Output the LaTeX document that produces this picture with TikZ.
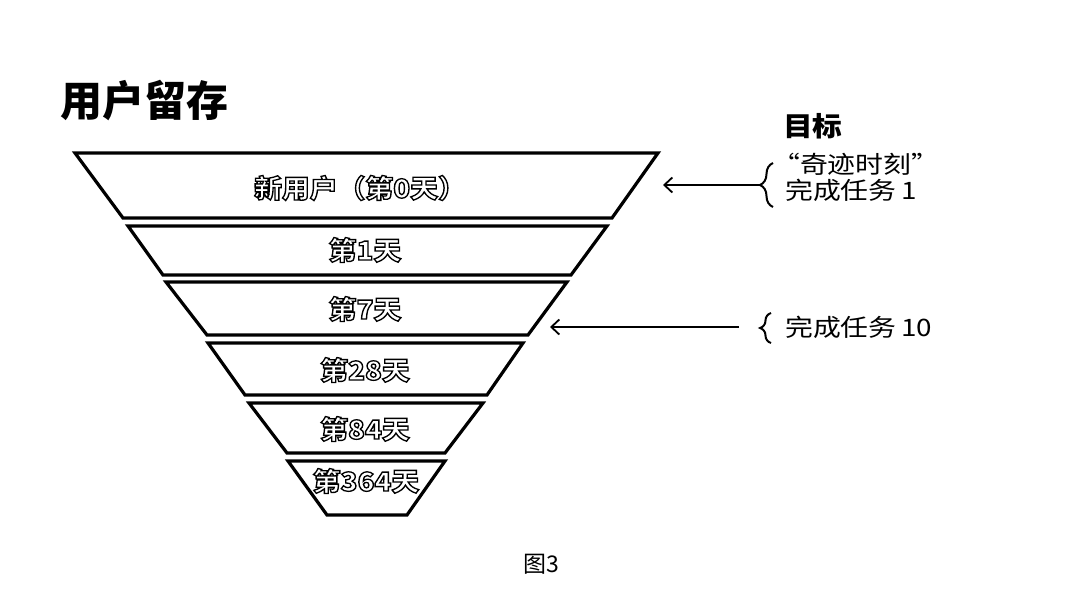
\documentclass[tikz,border=0pt]{standalone}
\usepackage{fontspec}
\newfontfamily\cjk{Noto Sans CJK SC}
\newfontfamily\cjkout{Noto Sans CJK SC}[FakeBold=5]
\usetikzlibrary{arrows.meta,decorations.pathreplacing}
\tikzset{
  band/.style={draw=black, line width=3.2pt, fill=white, line join=miter},
  bandtext/.style={inner sep=0pt, text=white, font=\cjkout\bfseries\fontsize{26}{31}\selectfont, xscale=1.07},
  goaltext/.style={inner sep=0pt, anchor=west, font=\cjk\fontsize{24}{29}\selectfont, xscale=1.16},
  arrowline/.style={line width=2pt, -{Straight Barb[length=8pt,width=15pt,line width=1.8pt]}},
  bracestyle/.style={line width=2pt, decorate, decoration={brace, amplitude=13pt}}
}
\newcommand{\outl}[1]{\special{pdf:literal direct 0 G}#1}
\begin{document}
\begin{tikzpicture}[x=1pt,y=-1pt]
\useasboundingbox (0,0) rectangle (1080,600);
\fill[white] (0,0) rectangle (1080,600);

% title
\node[inner sep=0pt, anchor=west, font=\cjk\bfseries\fontsize{42}{50}\selectfont] (title) at (60,101) {用户留存};

% funnel bands
\draw[band] (75,153) -- (658,153) -- (612,218) -- (123,218) -- cycle;
\node[bandtext] (d0) at (360,188) {\outl{新用户（第0天）}};
\draw[band] (128,226) -- (607,226) -- (571,275) -- (163,275) -- cycle;
\node[bandtext] (d1) at (365,250) {\outl{第1天}};
\draw[band] (166,282) -- (567,282) -- (528,335) -- (207,335) -- cycle;
\node[bandtext] (d7) at (365,309) {\outl{第7天}};
\draw[band] (208,343) -- (523,343) -- (487,395) -- (245,395) -- cycle;
\node[bandtext] (d28) at (365,370) {\outl{第28天}};
\draw[band] (249,403) -- (483,403) -- (445,453) -- (287,453) -- cycle;
\node[bandtext] (d84) at (365,429) {\outl{第84天}};
\draw[band] (288,461) -- (445,461) -- (407,515) -- (327,515) -- cycle;
\node[bandtext] (d364) at (366,481) {\outl{第364天}};

% goals
\node[inner sep=0pt, anchor=west, font=\cjk\bfseries\fontsize{27}{32}\selectfont, xscale=1.1] (goal) at (783,126) {目标};
\node[goaltext] (g1a) at (772,164) {“奇迹时刻”};
\node[goaltext] (g1b) at (785,190) {完成任务\,1};
\node[goaltext] (g2) at (785,327) {完成任务\,10};

% braces
\draw[bracestyle] (773,207) -- (773,163);
\draw[bracestyle, decoration={amplitude=11pt}] (771,343) -- (771,313);

% connectors
\coordinate (b1) at (760,185);
\coordinate (t1) at (663,185);
\coordinate (b2) at (739,327);
\coordinate (t2) at (550,327);
\draw[arrowline] (b1) -- (t1);
\draw[arrowline] (b2) -- (t2);

% caption
\node[inner sep=0pt, font=\cjk\fontsize{23}{28}\selectfont] (cap) at (541,564) {图3};
\end{tikzpicture}
\end{document}
